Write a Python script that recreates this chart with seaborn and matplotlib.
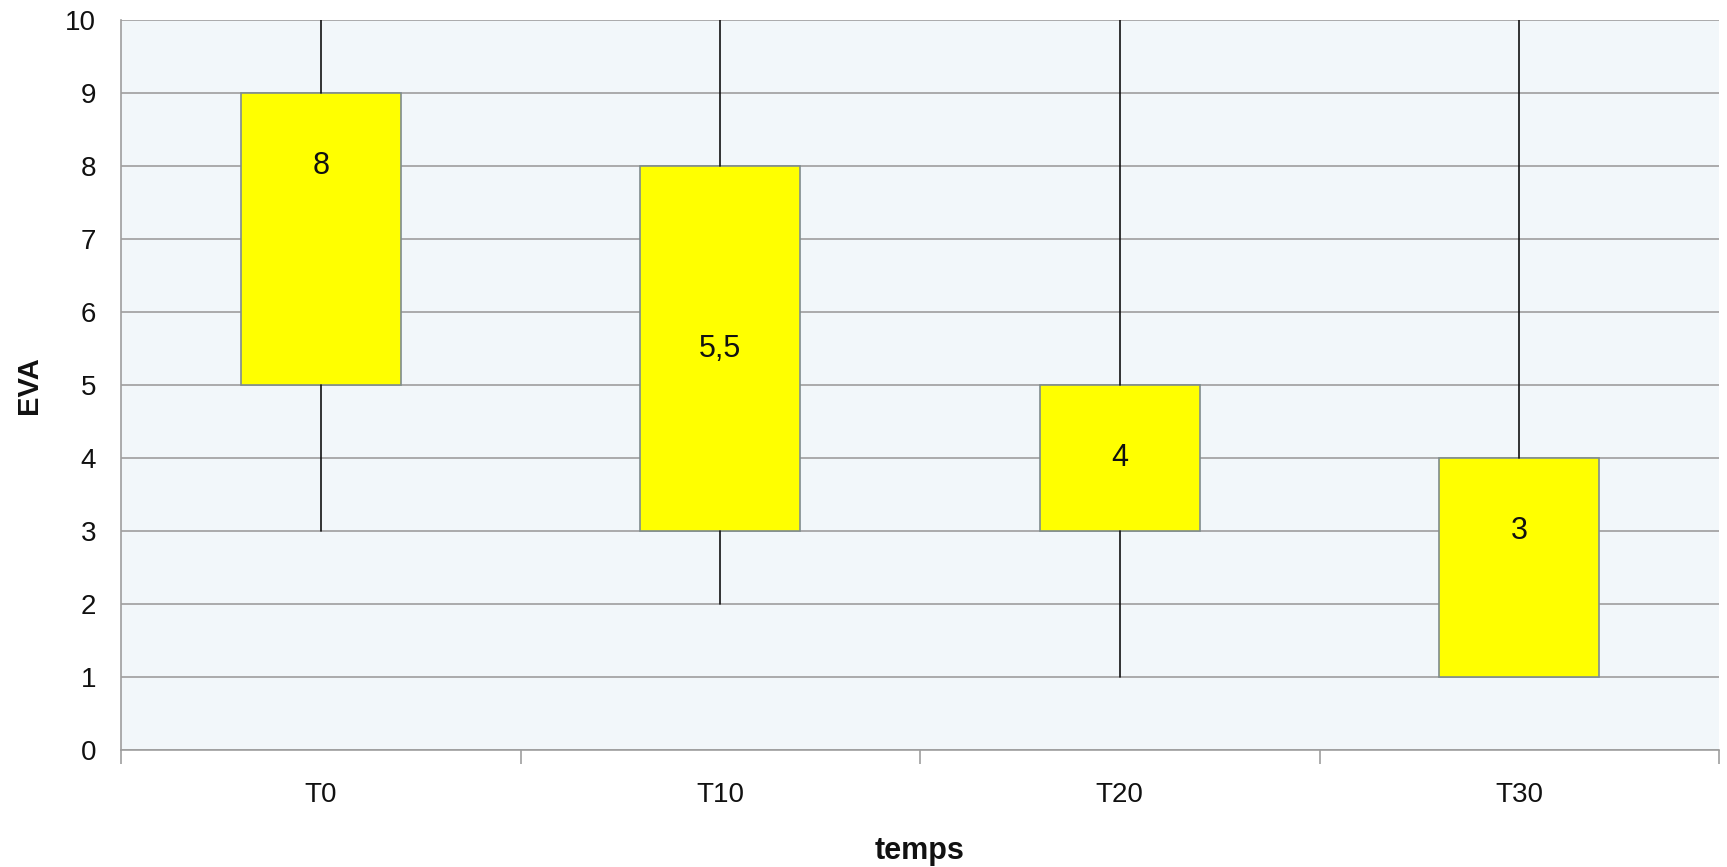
import matplotlib
matplotlib.use("Agg")
import matplotlib.pyplot as plt
import seaborn as sns

# Pain scores (EVA) over time: whiskers min/max, box Q1-Q3, label = median
categories = ["T0", "T10", "T20", "T30"]
minimum = [3, 2, 1, 1]
q1 = [5, 3, 3, 1]
median = [8, 5.5, 4, 3]
q3 = [9, 8, 5, 4]
maximum = [10, 10, 10, 10]
y_ticks = list(range(0, 11))

sns.set_theme(style="white")
plt.rcParams["font.family"] = ["Liberation Sans", "DejaVu Sans"]

fig = plt.figure(figsize=(17.27, 8.67), dpi=100)
ax = fig.add_axes([121 / 1727, 1 - 750 / 867, (1719 - 121) / 1727, (750 - 20) / 867])
ax.set_facecolor("#F2F7FA")

stats = []
for cat, lo, a, m, b, hi in zip(categories, minimum, q1, median, q3, maximum):
    stats.append(dict(label=cat, whislo=lo, q1=a, med=m, q3=b, whishi=hi))

positions = list(range(len(categories)))
ax.bxp(
    stats,
    positions=positions,
    widths=0.4,
    showfliers=False,
    showcaps=False,
    patch_artist=True,
    boxprops=dict(facecolor="#FFFF00", edgecolor="#7F8C8D", linewidth=1.2),
    whiskerprops=dict(color="#111111", linewidth=1.2),
    medianprops=dict(linewidth=0),
    zorder=3,
)

# Median values written inside each box (French decimal comma)
for x, m in zip(positions, median):
    txt = f"{m:g}".replace(".", ",")
    ax.text(x, m, txt, ha="center", va="center", fontsize=22, color="#111111", zorder=4)

ax.set_ylim(0, 10)
ax.set_xlim(-0.5, len(categories) - 0.5)
ax.set_yticks(y_ticks)
ax.yaxis.grid(True, color="#9E9E9E", linewidth=1.2)
ax.set_axisbelow(True)
ax.tick_params(axis="y", length=0, pad=18, labelsize=20, labelcolor="#111111")

# Category boundaries carry the tick marks; labels sit between them
ax.set_xticks([i - 0.5 for i in range(len(categories) + 1)])
ax.set_xticklabels([])
ax.set_xticks(positions, minor=True)
ax.set_xticklabels(categories, minor=True)
ax.tick_params(axis="x", which="major", length=10, width=1.2, color="#9E9E9E",
               direction="out", bottom=True)
ax.tick_params(axis="x", which="minor", length=0, pad=23, labelsize=20,
               labelcolor="#111111")

for side in ["top", "right"]:
    ax.spines[side].set_visible(False)
for side in ["left", "bottom"]:
    ax.spines[side].set_color("#9E9E9E")
    ax.spines[side].set_linewidth(1.2)

ax.set_ylabel("EVA", fontsize=21, fontweight="bold", color="#111111", labelpad=16)
ax.set_xlabel("temps", fontsize=22, fontweight="bold", color="#111111", labelpad=20)

fig.savefig("out.png", dpi=100, facecolor="white")
